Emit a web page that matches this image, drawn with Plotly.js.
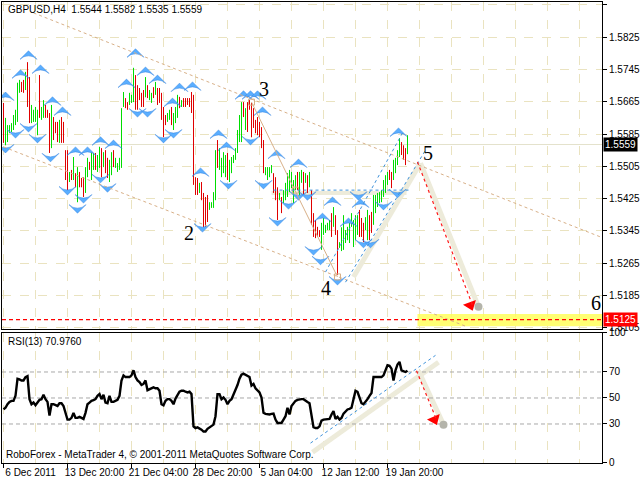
<!DOCTYPE html>
<html>
<head>
<meta charset="utf-8">
<script src="https://cdn.plot.ly/plotly-3.0.1.min.js"></script>
<style>html,body{margin:0;padding:0;background:#fff;}#chart{width:640px;height:480px;}</style>
</head>
<body>
<div id="chart"></div>
<script>
// ---------- DATA (GBPUSD H4, bar index 0..202) ----------
const barOpen = [
1.5645,1.5570,1.5575,1.5590,1.5593,1.5600,1.5612,1.5620,1.5692,1.5710,
1.5712,1.5698,1.5740,1.5670,1.5618,1.5620,1.5620,1.5590,1.5660,1.5625,
1.5630,1.5652,1.5640,1.5630,1.5555,1.5620,1.5610,1.5610,1.5570,1.5620,
1.5610,1.5540,1.5500,1.5470,1.5490,1.5478,1.5485,1.5450,1.5488,1.5470,
1.5470,1.5445,1.5485,1.5512,1.5480,1.5500,1.5533,1.5495,1.5508,1.5545,
1.5508,1.5540,1.5520,1.5472,1.5490,1.5540,1.5505,1.5495,1.5500,1.5515,
1.5655,1.5670,1.5660,1.5660,1.5665,1.5670,1.5725,1.5700,1.5695,1.5680,
1.5690,1.5680,1.5702,1.5672,1.5665,1.5698,1.5685,1.5695,1.5695,1.5680,
1.5630,1.5628,1.5618,1.5623,1.5648,1.5600,1.5615,1.5630,1.5672,1.5655,
1.5670,1.5670,1.5670,1.5670,1.5665,1.5650,1.5470,1.5470,1.5442,1.5460,
1.5430,1.5420,1.5428,1.5400,1.5404,1.5405,1.5425,1.5560,1.5505,1.5485,
1.5495,1.5485,1.5530,1.5472,1.5492,1.5516,1.5524,1.5542,1.5570,1.5575,
1.5660,1.5600,1.5655,1.5665,1.5655,1.5645,1.5615,1.5622,1.5610,1.5598,
1.5560,1.5486,1.5475,1.5482,1.5490,1.5485,1.5472,1.5445,1.5424,1.5425,
1.5418,1.5425,1.5435,1.5446,1.5455,1.5420,1.5450,1.5487,1.5435,1.5468,
1.5487,1.5467,1.5480,1.5457,1.5440,1.5385,1.5368,1.5352,1.5345,1.5305,
1.5340,1.5343,1.5350,1.5350,1.5383,1.5360,1.5380,1.5318,1.5305,1.5300,
1.5305,1.5318,1.5325,1.5320,1.5358,1.5310,1.5326,1.5340,1.5390,1.5372,
1.5360,1.5350,1.5328,1.5380,1.5388,1.5365,1.5393,1.5408,1.5418,1.5420,
1.5433,1.5443,1.5462,1.5492,1.5487,1.5475,1.5492,1.5512,1.5532,1.5562,
1.5553,1.5546,1.5544];
const barHigh = [
1.5662,1.5625,1.5607,1.5607,1.5612,1.5632,1.5645,1.5712,1.5719,1.5714,
1.5719,1.5739,1.5763,1.5726,1.5657,1.5645,1.5652,1.5645,1.5731,1.5652,
1.5669,1.5657,1.5645,1.5637,1.5657,1.5627,1.5615,1.5615,1.5620,1.5627,
1.5615,1.5545,1.5545,1.5491,1.5496,1.5528,1.5488,1.5503,1.5491,1.5476,
1.5478,1.5503,1.5526,1.5516,1.5540,1.5538,1.5538,1.5533,1.5553,1.5550,
1.5540,1.5545,1.5526,1.5521,1.5540,1.5545,1.5526,1.5513,1.5526,1.5649,
1.5689,1.5674,1.5664,1.5687,1.5682,1.5749,1.5731,1.5706,1.5699,1.5687,
1.5694,1.5726,1.5706,1.5694,1.5687,1.5701,1.5714,1.5699,1.5699,1.5687,
1.5652,1.5632,1.5637,1.5645,1.5652,1.5637,1.5652,1.5682,1.5677,1.5669,
1.5674,1.5674,1.5674,1.5674,1.5689,1.5682,1.5478,1.5476,1.5464,1.5466,
1.5439,1.5429,1.5434,1.5416,1.5416,1.5441,1.5545,1.5570,1.5550,1.5526,
1.5540,1.5533,1.5538,1.5521,1.5528,1.5533,1.5550,1.5595,1.5632,1.5664,
1.5664,1.5649,1.5664,1.5669,1.5662,1.5649,1.5620,1.5627,1.5615,1.5602,
1.5570,1.5503,1.5503,1.5503,1.5508,1.5488,1.5478,1.5453,1.5439,1.5429,
1.5446,1.5464,1.5488,1.5496,1.5491,1.5471,1.5483,1.5491,1.5491,1.5496,
1.5491,1.5488,1.5483,1.5491,1.5446,1.5389,1.5372,1.5355,1.5347,1.5365,
1.5384,1.5360,1.5365,1.5372,1.5389,1.5404,1.5384,1.5347,1.5317,1.5354,
1.5384,1.5347,1.5355,1.5365,1.5389,1.5372,1.5384,1.5384,1.5397,1.5377,
1.5365,1.5379,1.5397,1.5384,1.5392,1.5434,1.5434,1.5439,1.5441,1.5446,
1.5471,1.5483,1.5491,1.5496,1.5491,1.5521,1.5526,1.5545,1.5575,1.5565,
1.5557,1.5550,1.5582];
const barLow = [
1.5563,1.5557,1.5565,1.5587,1.5590,1.5595,1.5607,1.5615,1.5687,1.5689,
1.5687,1.5694,1.5652,1.5612,1.5612,1.5615,1.5615,1.5582,1.5625,1.5620,
1.5625,1.5625,1.5625,1.5538,1.5550,1.5570,1.5587,1.5565,1.5563,1.5563,
1.5563,1.5471,1.5446,1.5466,1.5471,1.5471,1.5453,1.5416,1.5453,1.5453,
1.5429,1.5439,1.5478,1.5496,1.5471,1.5496,1.5496,1.5491,1.5501,1.5478,
1.5503,1.5488,1.5476,1.5466,1.5483,1.5503,1.5501,1.5491,1.5496,1.5501,
1.5652,1.5649,1.5645,1.5657,1.5662,1.5664,1.5645,1.5645,1.5669,1.5652,
1.5652,1.5676,1.5674,1.5669,1.5662,1.5674,1.5682,1.5657,1.5662,1.5620,
1.5577,1.5607,1.5615,1.5620,1.5607,1.5595,1.5612,1.5625,1.5649,1.5652,
1.5652,1.5652,1.5657,1.5652,1.5637,1.5459,1.5434,1.5434,1.5439,1.5421,
1.5347,1.5355,1.5367,1.5397,1.5402,1.5402,1.5421,1.5501,1.5496,1.5478,
1.5488,1.5478,1.5471,1.5466,1.5488,1.5513,1.5521,1.5538,1.5565,1.5565,
1.5627,1.5595,1.5590,1.5645,1.5577,1.5600,1.5587,1.5582,1.5577,1.5550,
1.5488,1.5483,1.5471,1.5478,1.5488,1.5439,1.5421,1.5372,1.5421,1.5389,
1.5414,1.5421,1.5429,1.5441,1.5451,1.5414,1.5446,1.5446,1.5429,1.5464,
1.5434,1.5464,1.5439,1.5453,1.5360,1.5330,1.5327,1.5330,1.5330,1.5298,
1.5335,1.5340,1.5347,1.5347,1.5330,1.5355,1.5335,1.5236,1.5303,1.5295,
1.5298,1.5315,1.5322,1.5315,1.5355,1.5305,1.5322,1.5335,1.5330,1.5330,
1.5317,1.5347,1.5322,1.5322,1.5340,1.5360,1.5389,1.5404,1.5414,1.5416,
1.5429,1.5439,1.5459,1.5471,1.5451,1.5471,1.5488,1.5508,1.5528,1.5533,
1.5521,1.5508,1.5535];
const barClose = [
1.5580,1.5610,1.5600,1.5603,1.5608,1.5625,1.5640,1.5700,1.5712,1.5695,
1.5692,1.5730,1.5665,1.5620,1.5650,1.5640,1.5645,1.5640,1.5630,1.5648,
1.5662,1.5630,1.5628,1.5545,1.5650,1.5575,1.5590,1.5570,1.5615,1.5568,
1.5568,1.5478,1.5455,1.5488,1.5475,1.5520,1.5458,1.5495,1.5458,1.5458,
1.5435,1.5498,1.5520,1.5500,1.5535,1.5532,1.5500,1.5528,1.5548,1.5485,
1.5535,1.5493,1.5480,1.5515,1.5535,1.5508,1.5522,1.5510,1.5520,1.5635,
1.5685,1.5652,1.5648,1.5682,1.5678,1.5740,1.5650,1.5650,1.5672,1.5655,
1.5655,1.5720,1.5678,1.5690,1.5682,1.5678,1.5710,1.5660,1.5665,1.5625,
1.5585,1.5610,1.5633,1.5640,1.5612,1.5632,1.5648,1.5678,1.5652,1.5666,
1.5655,1.5655,1.5660,1.5655,1.5645,1.5470,1.5440,1.5440,1.5460,1.5425,
1.5355,1.5360,1.5372,1.5412,1.5413,1.5437,1.5530,1.5510,1.5545,1.5520,
1.5535,1.5528,1.5478,1.5515,1.5523,1.5530,1.5546,1.5590,1.5626,1.5658,
1.5630,1.5645,1.5595,1.5648,1.5585,1.5605,1.5590,1.5588,1.5582,1.5555,
1.5495,1.5500,1.5500,1.5500,1.5505,1.5445,1.5428,1.5380,1.5436,1.5393,
1.5442,1.5460,1.5482,1.5490,1.5487,1.5466,1.5480,1.5450,1.5486,1.5492,
1.5440,1.5485,1.5443,1.5487,1.5367,1.5335,1.5332,1.5333,1.5333,1.5360,
1.5380,1.5357,1.5362,1.5368,1.5335,1.5400,1.5340,1.5245,1.5315,1.5350,
1.5378,1.5343,1.5352,1.5360,1.5385,1.5368,1.5380,1.5380,1.5335,1.5335,
1.5322,1.5375,1.5392,1.5328,1.5345,1.5428,1.5430,1.5435,1.5438,1.5443,
1.5466,1.5478,1.5487,1.5474,1.5455,1.5516,1.5522,1.5541,1.5570,1.5536,
1.5525,1.5512,1.5559];
const rsiValues = [
41.2,42.5,45.2,47,47.8,47.8,51.7,64.8,64.3,63.5,
63.5,66.1,66.8,49.1,45.2,46.5,44.4,46.5,48.6,49.1,
52.5,49.1,47,36.5,45.2,45.2,44.4,43.9,46,46,
43.9,38.6,33.4,33.4,34.7,38.6,34.7,34.7,35.5,34.7,
33.9,38.6,45.2,46.5,47.8,48.3,49.1,51.7,53,49.1,
52.5,46.5,46,51.7,47,47,47.8,48.6,51.7,63.5,
67.4,66.1,66.1,66.1,67.4,71.3,66.1,63.5,62.2,60,
60.8,63.5,56,56.9,57.7,58.2,57.5,57.5,55.6,45.2,
44.4,47.8,49.1,49.1,47.8,45.2,49.6,52.2,54.8,55.6,
55.6,54.8,54.3,54.8,53,28.2,26.9,27.4,26.6,25.6,
24.2,24.2,26.3,27.6,28.2,29.5,36,53,53,49.1,
50.4,48.6,45.2,47.8,49.1,52.5,55.6,60,64.8,67.9,
68.7,67.9,67.4,66.1,59.5,60.8,57.5,55.6,54.3,50.4,
38.6,37.8,37.3,37.3,37.8,38,33.4,30.8,30.8,30.8,
33.4,36,42.5,37.3,43.9,46,47.8,48.6,49.1,49.1,
49.1,47.8,47,46,37.3,27.6,26.9,26.9,28.2,32.6,
33.4,33.4,33.4,33.9,37.3,39.9,33.9,35.5,33.4,34.7,
38,39.9,41.2,41.7,42.5,49.1,55.6,54.8,50.4,46,
45.2,47,49.1,51.7,53.8,66.1,66.1,66.1,66.1,66.1,
67.4,72.1,75.2,74.7,72.6,63.5,71.3,75.8,77.8,71.3,
70.5,70,70.976];

// time axis labels (bar index of each label)
const timeTickIdx = [0, 32, 64, 96, 128, 160, 192];
const timeTickText = ['6 Dec 2011', '13 Dec 20:00', '21 Dec 04:00', '28 Dec 20:00', '5 Jan 04:00', '12 Jan 12:00', '19 Jan 20:00'];
const rsiTicks = [0, 30, 50, 70, 100];
const rsiLevels = [30, 50, 70];

// fractal markers
const fractalUpIdx = [1,8.5,12.5,18.5,24.5,29.5,36,42,48.5,55,61.5,66,71,77,84.5,88,94.5,98.5,107.5,111.5,120,123.5,127,129.5,136.5,147.5,159.5,164.5,172.5,178.5,197.5];
const fractalUpPrice = [1.5689,1.5744,1.5791,1.5756,1.5677,1.5652,1.5553,1.5553,1.5578,1.5570,1.5721,1.5796,1.5751,1.5731,1.5674,1.5711,1.5714,1.5501,1.5595,1.5565,1.5692,1.5692,1.5692,1.5652,1.5545,1.5523,1.5389,1.5429,1.5377,1.5424,1.5600];
const fractalDnIdx = [1,6,12.5,17,23.5,32,37,40,48.5,52,67,72,80,85,99.5,112.5,123.5,130,137,142.5,147.5,152,155,158.5,167,177.5,180,183.5,190,197];
const fractalDnPrice = [1.5538,1.5575,1.5590,1.5563,1.5516,1.5434,1.5389,1.5414,1.5464,1.5441,1.5627,1.5627,1.5563,1.5575,1.5342,1.5449,1.5558,1.5449,1.5357,1.5399,1.5421,1.5421,1.5285,1.5261,1.5211,1.5421,1.5303,1.5303,1.5397,1.5427];

// wave points (index, price) with their labels
const waveLabels = ['2', '3', '4', '5', '6'];
const waveLabelIdx = [92.5, 130, 161, 212, 296];
const waveLabelPrice = [1.5340, 1.5697, 1.5204, 1.5538, 1.5167];
const wavePivotIdx = [124, 146, 167];
const wavePivotPrice = [1.5664, 1.5446, 1.5231];

// trend lines: [start, end]
const upperChannelIdx = [15, 298.5],   upperChannelPrice = [1.5885, 1.5330];
const lowerChannelIdx = [0, 232],      lowerChannelPrice = [1.5553, 1.5107];
const waveLineIdx = [124, 167],        waveLinePrice = [1.5664, 1.5231];
const necklineIdx = [135, 202.5],      necklinePrice = [1.5446, 1.5446];
const riseLine1Idx = [161, 200],       riseLine1Price = [1.5243, 1.5592];
const riseLine2Idx = [171, 211],       riseLine2Price = [1.5218, 1.5545];
const riseShadowIdx = [175, 208.5],    riseShadowPrice = [1.5231, 1.5513];
const forecastIdx = [207, 234.5],      forecastPrice = [1.5516, 1.5161];
const forecastShadowIdx = [208.5, 237.5], forecastShadowPrice = [1.5513, 1.5157];
const targetPrice = 1.5125;
const targetBand = [1.5109, 1.5139];
const targetBandStartIdx = 207;
const lastPrice = 1.5559;
const rsiTrendIdx = [153.5, 216],      rsiTrendVal = [15.3, 82.8];
const rsiShadowIdx = [154.5, 217.5],   rsiShadowVal = [8.3, 77.5];
const rsiForecastIdx = [206.5, 216.5], rsiForecastVal = [71, 33.4];
const rsiForecastShadowIdx = [207.5, 220], rsiForecastShadowVal = [71, 29.5];

// ---------- BUILD ----------
const barIdx = barOpen.map((_, i) => i);
const XR = [-0.75, 299.25];
const GRID = '#EAE3C0';
const TAN = '#D8B088';
const BLUE = '#3F92DA';
const SHADOW = '#EDEBDA';

function seg(xs, ys, xref, yref, line, layer) {
  return {type: 'line', xref: xref, yref: yref, x0: xs[0], y0: ys[0], x1: xs[1], y1: ys[1], line: line, layer: layer || 'above'};
}

const shapes = [
  {type: 'rect', xref: 'x', yref: 'y', x0: targetBandStartIdx, x1: XR[1], y0: targetBand[0], y1: targetBand[1], fillcolor: 'rgba(255,255,80,0.8)', line: {width: 0}, layer: 'between'},
  seg(XR, [lastPrice, lastPrice], 'x', 'y', {color: '#E4E2CC', width: 1}, 'between'),
  seg(necklineIdx.map(v => v - 1), necklinePrice.map(v => v - 0.0007), 'x', 'y', {color: SHADOW, width: 4}, 'between'),
  seg(riseShadowIdx, riseShadowPrice, 'x', 'y', {color: SHADOW, width: 5}, 'between'),
  seg(forecastShadowIdx, forecastShadowPrice, 'x', 'y', {color: SHADOW, width: 5}, 'between'),
  seg(upperChannelIdx, upperChannelPrice, 'x', 'y', {color: TAN, width: 1, dash: 'dot'}),
  seg(lowerChannelIdx, lowerChannelPrice, 'x', 'y', {color: TAN, width: 1, dash: 'dot'}),
  seg(waveLineIdx, waveLinePrice, 'x', 'y', {color: TAN, width: 1}),
  seg(necklineIdx, necklinePrice, 'x', 'y', {color: BLUE, width: 1, dash: 'dot'}),
  seg(riseLine1Idx, riseLine1Price, 'x', 'y', {color: BLUE, width: 1, dash: 'dot'}),
  seg(riseLine2Idx, riseLine2Price, 'x', 'y', {color: BLUE, width: 1, dash: 'dot'}),
  seg(forecastIdx, forecastPrice, 'x', 'y', {color: '#FF1A1A', width: 1.2, dash: 'dot'}),
  seg(XR, [targetPrice, targetPrice], 'x', 'y', {color: '#FF0000', width: 1.2, dash: '4px,3px'}),
  // RSI panel
  seg(rsiShadowIdx, rsiShadowVal, 'x2', 'y2', {color: SHADOW, width: 5}, 'between'),
  seg(rsiForecastShadowIdx, rsiForecastShadowVal, 'x2', 'y2', {color: SHADOW, width: 5}, 'between'),
  seg(rsiTrendIdx, rsiTrendVal, 'x2', 'y2', {color: BLUE, width: 1, dash: 'dot'}),
  seg(rsiForecastIdx, rsiForecastVal, 'x2', 'y2', {color: '#FF1A1A', width: 1.2, dash: 'dot'})
];

const fractalMarker = {symbol: 'arrow-wide', size: 12, color: '#5AAEFF', line: {color: '#2B7FE0', width: 0.5}};

const traces = [
  {type: 'ohlc', x: barIdx, open: barOpen, high: barHigh, low: barLow, close: barClose,
   xaxis: 'x', yaxis: 'y', tickwidth: 0.2,
   increasing: {line: {color: '#00DD00', width: 1}},
   decreasing: {line: {color: '#E00000', width: 1}}, hoverinfo: 'skip'},
  {type: 'scatter', mode: 'markers', x: fractalUpIdx, y: fractalUpPrice, xaxis: 'x', yaxis: 'y',
   marker: Object.assign({angle: 0}, fractalMarker), hoverinfo: 'skip'},
  {type: 'scatter', mode: 'markers', x: fractalDnIdx, y: fractalDnPrice, xaxis: 'x', yaxis: 'y',
   marker: Object.assign({angle: 180}, fractalMarker), hoverinfo: 'skip'},
  {type: 'scatter', mode: 'markers', x: wavePivotIdx, y: wavePivotPrice, xaxis: 'x', yaxis: 'y',
   marker: {symbol: 'square-open', size: 6, color: TAN, line: {width: 1}}, hoverinfo: 'skip'},
  {type: 'scatter', mode: 'markers', x: [forecastShadowIdx[1]], y: [forecastShadowPrice[1]], xaxis: 'x', yaxis: 'y',
   marker: {symbol: 'circle', size: 8, color: '#B4B4AA'}, hoverinfo: 'skip'},
  {type: 'scatter', mode: 'markers', x: [forecastIdx[1] - 1], y: [forecastPrice[1]], xaxis: 'x', yaxis: 'y',
   marker: {symbol: 'triangle-down', size: 12, angle: -21, color: '#FF0000'}, hoverinfo: 'skip'},
  {type: 'scatter', mode: 'lines', x: barIdx, y: rsiValues, xaxis: 'x2', yaxis: 'y2',
   line: {color: '#000', width: 2.4}, hoverinfo: 'skip'},
  {type: 'scatter', mode: 'markers', x: [rsiForecastShadowIdx[1]], y: [rsiForecastShadowVal[1]], xaxis: 'x2', yaxis: 'y2',
   marker: {symbol: 'circle', size: 8, color: '#B4B4AA'}, hoverinfo: 'skip'},
  {type: 'scatter', mode: 'markers', x: [rsiForecastIdx[1] - 1], y: [rsiForecastVal[1]], xaxis: 'x2', yaxis: 'y2',
   marker: {symbol: 'triangle-down', size: 12, angle: -23, color: '#FF0000'}, hoverinfo: 'skip'}
];

const annotations = [
  {xref: 'paper', yref: 'paper', x: 0.006, y: 1.0, xanchor: 'left', yanchor: 'top', showarrow: false,
   text: 'GBPUSD,H4  1.5544 1.5582 1.5535 1.5559', font: {size: 10, color: '#000'}},
  {xref: 'paper', yref: 'paper', x: 0.006, y: 0.2805, xanchor: 'left', yanchor: 'top', showarrow: false,
   text: 'RSI(13) 70.9760', font: {size: 10, color: '#000'}},
  {xref: 'paper', yref: 'paper', x: 0.004, y: 0.018, xanchor: 'left', yanchor: 'middle', showarrow: false,
   text: 'RoboForex - MetaTrader 4, © 2001-2011 MetaQuotes Software Corp.', font: {size: 10, color: '#000'}},
  {xref: 'paper', yref: 'y', x: 1.002, y: lastPrice, xanchor: 'left', yanchor: 'middle', showarrow: false,
   text: lastPrice.toFixed(4), bgcolor: '#000', borderpad: 1, font: {size: 10, color: '#fff'}},
  {xref: 'paper', yref: 'y', x: 1.002, y: targetPrice, xanchor: 'left', yanchor: 'middle', showarrow: false,
   text: targetPrice.toFixed(4), bgcolor: '#FF0000', borderpad: 1, font: {size: 10, color: '#fff'}}
];
waveLabels.forEach((t, k) => annotations.push({
  xref: 'x', yref: 'y', x: waveLabelIdx[k], y: waveLabelPrice[k], showarrow: false, text: t,
  font: {family: 'Liberation Serif, DejaVu Serif, serif', size: 20, color: '#000'}
}));

const layout = {
  width: 640, height: 480,
  margin: {l: 2, r: 38, t: 2, b: 17, pad: 0},
  paper_bgcolor: '#fff', plot_bgcolor: '#fff',
  showlegend: false,
  font: {family: 'Liberation Sans, Arial, sans-serif', size: 10, color: '#000'},
  xaxis: {
    anchor: 'y', range: XR, rangeslider: {visible: false},
    tickvals: timeTickIdx, showticklabels: false, ticks: '',
    showline: true, mirror: true, linecolor: '#000', linewidth: 1,
    showgrid: true, griddash: 'dash', gridcolor: GRID, gridwidth: 1, zeroline: false,
    minor: {dtick: 16, tick0: 0, showgrid: true, griddash: 'dash', gridcolor: GRID, ticks: ''}
  },
  xaxis2: {
    anchor: 'y2', matches: 'x', range: XR, rangeslider: {visible: false},
    tickvals: timeTickIdx, ticktext: timeTickText, ticks: 'outside', ticklen: 4, tickcolor: '#000',
    ticklabelshift: 27, ticklabelstandoff: -4, tickfont: {size: 10},
    showline: true, mirror: true, linecolor: '#000', linewidth: 1,
    showgrid: true, griddash: 'dash', gridcolor: GRID, gridwidth: 1, zeroline: false,
    minor: {dtick: 16, tick0: 0, showgrid: true, griddash: 'dash', gridcolor: GRID, ticks: ''}
  },
  yaxis: {
    domain: [0.2907, 1], anchor: 'x', side: 'right', range: [1.5102, 1.5912],
    tick0: 1.5105, dtick: 0.008, tickformat: '.4f', ticks: 'outside', ticklen: 4, tickcolor: '#000',
    showline: true, mirror: true, linecolor: '#000', linewidth: 1,
    showgrid: true, griddash: 'dash', gridcolor: GRID, zeroline: false
  },
  yaxis2: {
    domain: [0, 0.282], anchor: 'x2', side: 'right', range: [0, 100],
    tickvals: rsiTicks, ticks: 'outside', ticklen: 4, tickcolor: '#000',
    showline: true, mirror: true, linecolor: '#000', linewidth: 1,
    showgrid: false, zeroline: false
  },
  shapes: shapes.concat(rsiLevels.map(v => seg(XR, [v, v], 'x2', 'y2', {color: '#A8A8A8', width: 1, dash: '4px,3px'}, 'between'))),
  annotations: annotations
};

Plotly.newPlot('chart', traces, layout, {staticPlot: true, displayModeBar: false});
</script>
</body>
</html>
